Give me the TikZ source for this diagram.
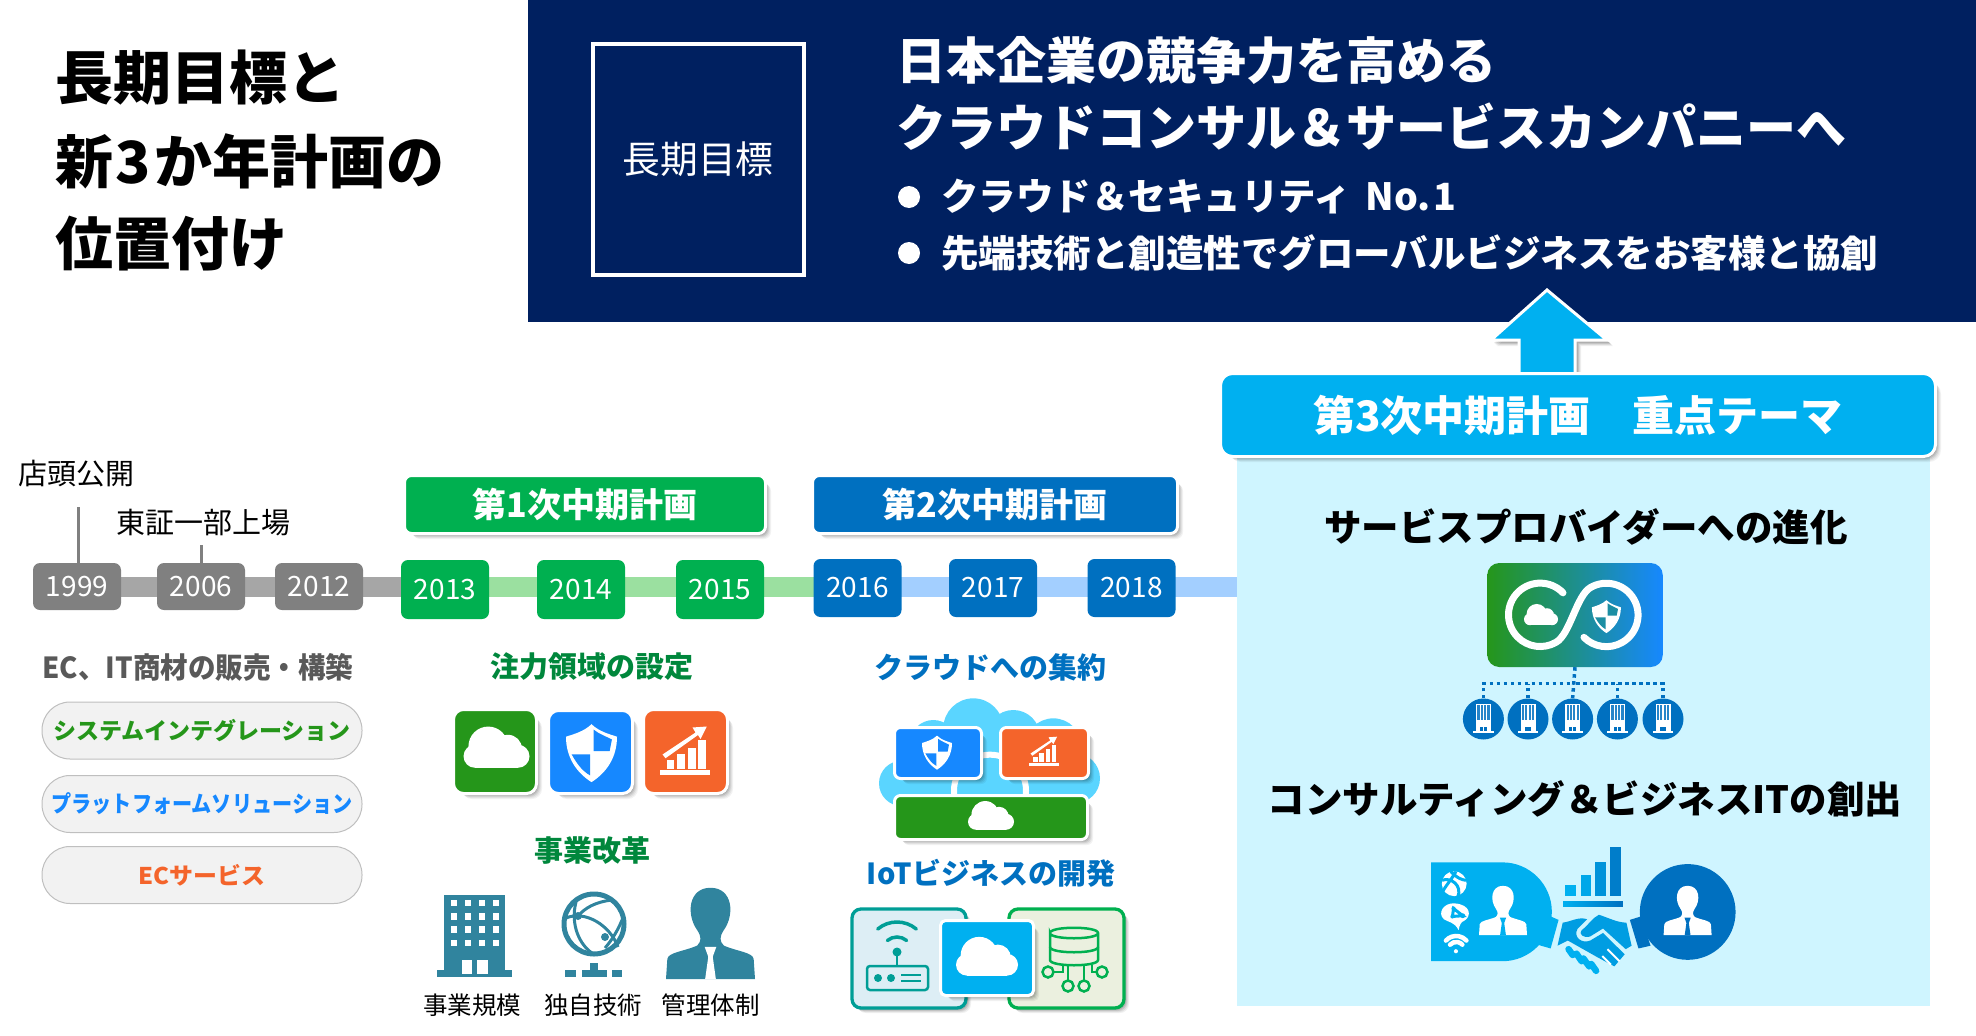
\documentclass[tikz,border=0pt]{standalone}
\usepackage{fontspec}
\setmainfont{Noto Sans CJK JP}
\usetikzlibrary{calc}
\definecolor{navy}{HTML}{002060}
\definecolor{sky}{HTML}{00B0F0}
\definecolor{deep}{HTML}{0070C0}
\definecolor{paneblue}{HTML}{CFF5FF}
\definecolor{green1}{HTML}{00B050}
\definecolor{greentx}{HTML}{00873C}
\definecolor{leaf}{HTML}{25961A}
\definecolor{azure}{HTML}{1688FF}
\definecolor{flame}{HTML}{F4642B}
\definecolor{teal1}{HTML}{30849E}
\definecolor{cloudblue}{HTML}{5AD5FF}
\definecolor{bargrey}{HTML}{A6A6A6}
\definecolor{bargreen}{HTML}{9BE0A0}
\definecolor{barblue}{HTML}{A3CFFF}
\definecolor{boxgrey}{HTML}{808080}
\definecolor{pillfill}{HTML}{F2F2F2}
\definecolor{pillline}{HTML}{BFBFBF}
\definecolor{darkgrey}{HTML}{595959}
\definecolor{tealline}{HTML}{009E96}
\definecolor{tealbg}{HTML}{DDEEF5}
\definecolor{olivebg}{HTML}{EBF0DF}
\newcommand\fs[1]{\fontsize{#1}{#1}\selectfont}
\pgfdeclarelayer{bg}
\pgfsetlayers{bg,main}
\tikzset{
  panelnode/.style={draw=white,line width=3pt,inner sep=0pt,text=white},
  yearbox/.style={rounded corners=7pt,inner sep=0pt,text=white,font=\fs{28},minimum width=88pt},
  yeargrey/.style={yearbox,fill=boxgrey,minimum height=47pt},
  yeargreen/.style={yearbox,fill=green1,minimum height=59pt},
  yearblue/.style={yearbox,fill=deep,minimum height=58pt},
  barline/.style={line width=20pt},
  pillnode/.style={draw=pillline,line width=1pt,fill=pillfill,rounded corners=28pt,minimum width=320pt,minimum height=57pt,inner sep=0pt,font=\bfseries\fs{23}},
  heading/.style={inner sep=0pt,font=\bfseries\fs{29}},
  bigheading/.style={inner sep=0pt,font=\bfseries\fs{37.5}},
  plainlabel/.style={inner sep=0pt,font=\fs{29}},
  smalllabel/.style={inner sep=0pt,font=\fs{24.5}},
  titleline/.style={inner sep=0pt,anchor=west,font=\bfseries\fs{58}},
  bannerline/.style={inner sep=0pt,anchor=west,text=white,font=\bfseries\fs{50}},
  bulletline/.style={inner sep=0pt,anchor=west,text=white,font=\bfseries\fs{37.5}},
  dotline/.style={draw=deep,line width=3.5pt,dash pattern=on 3.5pt off 3.5pt},
  companynode/.style={circle,fill=deep,minimum size=41pt,inner sep=0pt},
  flip/.style={yscale=-1,scale=#1},
  pics/cloudico/.style={code={
    \fill[white] (-.25,-.05) circle[radius=.6] (.35,.02) circle[radius=.42]
      (-.65,.25) circle[radius=.35] (.65,.25) circle[radius=.35];
    \fill[white] (-.65,.1) rectangle (.65,.6);}},
  pics/shieldico/.style={code={
    \fill[white] (0,-1.09) .. controls (.3,-.8) and (.7,-.7) .. (1,-.6)
      .. controls (1,.2) and (.6,.8) .. (0,1.18)
      .. controls (-.6,.8) and (-1,.2) .. (-1,-.6)
      .. controls (-.7,-.7) and (-.3,-.8) .. cycle;
    \fill[#1] (.08,-.88) .. controls (.3,-.7) and (.6,-.6) .. (.8,-.49)
      -- (.71,-.03) -- (.08,-.03) -- cycle;
    \fill[#1] (-.78,.09) -- (-.05,.09) -- (-.05,.92) .. controls (-.35,.75) and (-.55,.5) .. cycle;}},
  pics/chartico/.style={code={
    \fill[white] (-1,.73) rectangle (1,.93);
    \fill[white] (-.73,.33) rectangle (-.43,.67);
    \fill[white] (-.33,.09) rectangle (0,.67);
    \fill[white] (.11,-.17) rectangle (.43,.67);
    \fill[white] (.53,-.49) rectangle (.83,.67);
    \fill[white] (-.9,.1) -- (.42,-.78) -- (.3,-.98) -- (.87,-1.02) -- (.62,-.52) -- (.52,-.68) -- (-.78,.25) -- cycle;}},
  pics/personico/.style n args={2}{code={
    \fill[#1] (-1,0) -- (-.97,-.45) .. controls (-.95,-.6) and (-.6,-.62) .. (-.3,-.75)
      .. controls (-.2,-.85) and (-.2,-.95) .. (-.3,-1.1)
      .. controls (-.55,-1.45) and (-.5,-2.05) .. (0,-2.05)
      .. controls (.5,-2.05) and (.55,-1.45) .. (.3,-1.1)
      .. controls (.2,-.95) and (.2,-.85) .. (.3,-.75)
      .. controls (.6,-.62) and (.95,-.6) .. (.97,-.45) -- (1,0) -- cycle;
    \fill[#2] (-.13,-.72) -- (.13,-.72) -- (.05,-.5) -- (.12,-.0) -- (-.12,-.0) -- (-.05,-.5) -- cycle;}},
  pics/officeico/.style={code={
    \fill[white] (-7.5,-15) rectangle (7.5,13);
    \fill[white] (-10.3,12) rectangle (10.3,14);
    \foreach \cx in {-5,-1.7,1.7,5}{\foreach \cy in {-12.5,-9.5,-6.5,-3.5,-.5}{
      \fill[deep!85] (\cx-1.1,\cy-1.1) rectangle (\cx+1.1,\cy+1.1);}}
    \fill[deep] (-3.4,8) rectangle (-.4,12);
    \fill[deep] (.4,8) rectangle (3.4,12);}}
}
\newcommand\panelbox[8]{%
  \foreach \d/\o in {7/.05,6/.06,5/.08,4/.1,3/.12}{%
    \fill[black,opacity=\o,rounded corners=#7pt] ({#2+\d},{#3+\d}) rectangle ({#4+\d},{#5+\d});}%
  \node[panelnode,fill=#6,rounded corners=#7pt,minimum width={#4-#2+3},minimum height={#5-#3+3}] (#1) at ({(#2+#4)/2},{(#3+#5)/2}) {#8};}
\begin{document}
\begin{tikzpicture}[x=1pt,y=1pt,yscale=-1]
\useasboundingbox (0,0) rectangle (1976,1036);
% title
\node[titleline] (t1) at (55,78) {長期目標と};
\node[titleline] (t2) at (55,161) {新\kern2pt 3\kern4pt か年計画の};
\node[titleline] (t3) at (55,244) {位置付け};
% banner
\fill[navy] (528,0) rectangle (1976,322);
\node[draw=white,line width=4pt,minimum width=211pt,minimum height=231pt,inner sep=0pt,text=white,font=\fs{37.8}] (goal) at (698,159.5) {\raisebox{3pt}{長期目標}};
\node[bannerline] (b1) at (896,60.5) {日本企業の競争力を高める};
\node[bannerline] (b2) at (896,126.5) {クラウドコンサル＆サービスカンパニーへ};
\fill[white] (909,197) circle[radius=11];
\fill[white] (909,253) circle[radius=11];
\node[bulletline] (b3) at (941,197) {クラウド＆セキュリティ\kern14pt No.\kern3pt 1};
\node[bulletline] (b4) at (941,253) {先端技術と創造性でグローバルビジネスをお客様と協創};
% right panel
\fill[paneblue] (1237,455) rectangle (1930,1006);
% arrow
\foreach \d/\o in {6/.06,5/.08,4/.1,3/.12}{
  \fill[black,opacity=\o] (1547+\d,290+\d) -- (1607+\d,340+\d) -- (1575+\d,340+\d) -- (1575+\d,378+\d) -- (1519+\d,378+\d) -- (1519+\d,340+\d) -- (1491+\d,340+\d) -- cycle;}
\draw[white,line width=3pt,fill=sky] (1547,290) -- (1607,340) -- (1575,340) -- (1575,378) -- (1519,378) -- (1519,340) -- (1491,340) -- cycle;
\panelbox{head3}{1222}{375}{1934}{455}{sky}{12}{\bfseries\fs{42}第3次中期計画　重点テーマ}
% timeline
\node[yeargrey] (y1999) at (77,586.5) {\raisebox{-1pt}{1999}};
\node[yeargrey] (y2006) at (201,586.5) {\raisebox{-1pt}{2006}};
\node[yeargrey] (y2012) at (319,586.5) {\raisebox{-1pt}{2012}};
\node[yeargreen] (y2013) at (445,589.5) {\raisebox{-2.5pt}{2013}};
\node[yeargreen] (y2014) at (581,589.5) {\raisebox{-2.5pt}{2014}};
\node[yeargreen] (y2015) at (720,589.5) {\raisebox{-2.5pt}{2015}};
\node[yearblue] (y2016) at (857.5,588) {\raisebox{-1.5pt}{2016}};
\node[yearblue] (y2017) at (993,588) {\raisebox{-1.5pt}{2017}};
\node[yearblue] (y2018) at (1131.5,588) {\raisebox{-1.5pt}{2018}};
\coordinate (barend) at (1237,587);
\begin{pgfonlayer}{bg}
  \draw[barline,bargrey] (y1999) -- (y1999 -| y2013);
  \draw[barline,bargreen] (y2013 |- barend) -- (y2016 |- barend);
  \draw[barline,barblue] (y2016 |- barend) -- (barend);
\end{pgfonlayer}
\coordinate (m1999) at (78,506.5);
\coordinate (m2006) at (201,545);
\draw[boxgrey,line width=3pt] (y1999.north -| m1999) -- (m1999);
\draw[boxgrey,line width=3pt] (y2006.north) -- (m2006);
\node[plainlabel] (l1999) at (76,474) {店頭公開};
\node[plainlabel] (l2006) at (203,523) {東証一部上場};
\panelbox{plan1}{406}{477}{764}{532}{green1}{7}{\bfseries\fs{34}第1次中期計画}
\panelbox{plan2}{814}{477}{1176}{532}{deep}{7}{\bfseries\fs{34}第2次中期計画}
% left column
\node[heading,text=darkgrey] (ec) at (198,667) {\scalebox{0.95}[1]{EC、IT商材の販売・構築}};
\node[pillnode,text=leaf] (p1) at (202,730.5) {システムインテグレーション};
\node[pillnode,text=azure] (p2) at (202,804) {\scalebox{0.875}[1]{プラットフォームソリューション}};
\node[pillnode,text=flame] (p3) at (202,875) {\scalebox{1.04}[1]{ECサービス}};
% column 2
\node[heading,text=greentx] (foc) at (592,667) {注力領域の設定};
\panelbox{ic1}{455}{711}{535}{792}{leaf}{10}{}
\panelbox{ic2}{550}{712}{631}{792}{azure}{10}{}
\panelbox{ic3}{645}{711}{726}{792}{flame}{10}{}
\pic[flip=33] at (496.5,748) {cloudico};
\pic[flip=25.5] at (591.5,752) {shieldico=azure};
\pic[flip=25] at (685,752) {chartico};
\node[heading,text=greentx] (ref) at (592,851) {事業改革};
% teal building
\fill[teal1] (444,895) rectangle (505,972);
\fill[teal1] (437,970) rectangle (512,977);
\foreach \wy in {903,916.5,929.5,943}{\foreach \wx in {454,468,482,495.5}{
  \fill[white] (\wx-3,\wy-3.2) rectangle (\wx+3,\wy+3.2);}}
\fill[white] (461.5,960) rectangle (472,974);
\fill[white] (477,960) rectangle (488,974);
% globe
\draw[teal1,line width=5pt] (594,924) circle[radius=30];
\draw[teal1,line width=3pt] (566,918) .. controls (585,910) and (610,925) .. (618,947);
\draw[teal1,line width=3pt] (576,902) .. controls (570,925) and (580,945) .. (592,953);
\draw[teal1,line width=3pt] (612,900) .. controls (595,902) and (585,908) .. (578,916);
\draw[teal1,line width=3pt] (622,920) .. controls (618,930) and (612,940) .. (605,948);
\fill[teal1] (578,916) circle[radius=4] (605,937) circle[radius=4];
\fill[teal1] (565,970) rectangle (576,977);
\fill[teal1] (582,970) rectangle (607,977);
\fill[teal1] (612,970) rectangle (622,977);
\fill[teal1] (590,963) rectangle (598,971);
\pic[flip=44.5] at (710.5,979) {personico={teal1}{white}};
\node[smalllabel] (s1) at (472,1005) {事業規模};
\node[smalllabel] (s2) at (593,1005) {独自技術};
\node[smalllabel] (s3) at (710.5,1005) {管理体制};
% column 3
\node[heading,text=deep] (cl) at (990,667) {クラウドへの集約};
\begin{scope}[shift={(800,640)},scale=1/3]
  \fill[cloudblue] (305,430) circle[radius=68] (400,310) circle[radius=70] (520,265) circle[radius=90]
    (640,290) circle[radius=80] (760,320) circle[radius=85] (825,415) circle[radius=75];
  \fill[cloudblue] (305,300) rectangle (830,510);
  \draw[white,line width=6pt] (570,452) circle[radius=108];
\end{scope}
\panelbox{cb1}{896}{729}{980}{777}{azure}{6}{}
\panelbox{cb2}{1002}{729}{1087}{777}{flame}{6}{}
\panelbox{cb3}{896}{797}{1086}{838}{leaf}{6}{}
\pic[flip=15] at (937,752) {shieldico=azure};
\pic[flip=15] at (1044,752) {chartico};
\pic[flip=23] at (991,816) {cloudico};
\node[heading,text=deep] (iot) at (991,873) {IoTビジネスの開発};
% IoT boxes
\foreach \d/\o in {5/.06,4/.08,3/.1,2/.12}{
  \fill[black,opacity=\o,rounded corners=9pt] (852+\d,909+\d) rectangle (966+\d,1008+\d);
  \fill[black,opacity=\o,rounded corners=9pt] (1009+\d,909+\d) rectangle (1124+\d,1008+\d);}
\node[draw=tealline,fill=tealbg,line width=3.3pt,rounded corners=9pt,minimum width=114pt,minimum height=99pt,inner sep=0pt] (iotl) at (909,958.5) {};
\node[draw=green1,fill=olivebg,line width=3.3pt,rounded corners=9pt,minimum width=115pt,minimum height=99pt,inner sep=0pt] (iotr) at (1066.5,958.5) {};
% router
\draw[tealline,line width=3.5pt,line cap=round] ({897+30*cos(230)},{952+30*sin(230)}) arc[start angle=230,end angle=310,radius=30];
\draw[tealline,line width=3.5pt,line cap=round] ({897+15*cos(230)},{952+15*sin(230)}) arc[start angle=230,end angle=310,radius=15];
\fill[tealline] (897,952) circle[radius=4.5];
\draw[tealline,line width=2.5pt] (897,952) -- (897,966);
\draw[tealline,line width=2.5pt,rounded corners=3pt] (867,966) rectangle (928,990);
\fill[tealline] (878,978) circle[radius=4] (891,978) circle[radius=4];
\draw[tealline,line width=2.5pt] (901,975) -- (921,975) (901,981) -- (921,981);
% database
\draw[green1,line width=2.5pt] (1050,933) .. controls (1050,926) and (1098,926) .. (1098,933)
  .. controls (1098,940) and (1050,940) .. (1050,933) -- (1050,960)
  .. controls (1050,967) and (1098,967) .. (1098,960) -- (1098,933);
\draw[green1,line width=2.5pt] (1050,947) .. controls (1050,954) and (1098,954) .. (1098,947);
\draw[green1,line width=2.5pt] (1063,965) |- (1054,972) (1068,966) -- (1068,980) (1084,966) -- (1084,980) (1092,965) |- (1096,972);
\draw[green1,line width=2.5pt] (1048,972) circle[radius=5.5] (1102,972) circle[radius=5.5] (1068,986) circle[radius=5.5] (1084,986) circle[radius=5.5];
\panelbox{iotc}{942}{922}{1032}{994}{sky}{5}{}
\pic[flip=31] at (987,957) {cloudico};
% service provider
\node[bigheading] (sv) at (1586,527) {サービスプロバイダーへの進化};
\node[left color=leaf,right color=azure,rounded corners=12pt,minimum width=175.5pt,minimum height=104pt,inner sep=0pt] (grad) at (1575,615) {};
\draw[white,line width=7pt,line cap=round] (1563,592.8) arc[start angle=-44,end angle=-300,radius=31.7]
  .. controls (1570,634.5) and (1576.5,595.5) .. (1590.5,587.5)
  arc[start angle=240,end angle=495,radius=31.7];
\pic[flip=17] at (1541,615) {cloudico};
\pic[flip=14.5] at (1606.4,616) {shieldico=azure!60!leaf};
\coordinate (hub) at (1572.6,683.6);
\foreach \i/\x in {1/1483.4,2/1528,3/1572.6,4/1617.4,5/1663}{
  \node[companynode] (co\i) at (\x,719) {};
  \pic[flip=1] at (co\i) {officeico};}
\draw[dotline] (grad.south) -- (co3.north);
\draw[dotline] (co1.north) |- (hub);
\draw[dotline] (co2.north) -- (co2.north |- hub);
\draw[dotline] (co4.north) -- (co4.north |- hub);
\draw[dotline] (co5.north) |- (hub);
% consulting
\node[bigheading] (cs) at (1585,799) {コンサルティング＆ビジネスITの創出};
\begin{scope}[shift={(1220,820)},scale=0.3444]
  \fill[sky] (613,123) -- (820,123) arc[start angle=-90,end angle=90,radius=143.5] -- (613,410) -- cycle;
  \fill[sky] (960,280) -- (983,290) -- (960,373) -- (922,362) -- cycle;
  \fill[deep] (1358,267) circle[radius=139];
  \fill[deep] (1190,290) -- (1222,280) -- (1250,365) -- (1215,373) -- cycle;
  % bars
  \fill[sky] (1003,190) rectangle (1033,222);
  \fill[sky!85!deep] (1047,160) rectangle (1077,222);
  \fill[sky!55!deep] (1090,122) rectangle (1120,222);
  \fill[sky!20!deep] (1133,77) rectangle (1163,222);
  \shade[left color=sky,right color=deep] (996,237) rectangle (1170,252);
  % handshake
  \fill[sky!70!deep] (995,298) .. controls (1020,295) and (1040,280) .. (1066,288) -- (1038,316)
    .. controls (1025,340) and (1050,360) .. (1075,350) -- (1112,328) -- (1175,390)
    -- (1145,425) -- (1095,398) -- (1010,350) -- (980,365) -- cycle;
  \fill[sky!70!deep] (1100,275) .. controls (1130,285) and (1155,298) .. (1180,298) -- (1195,365) -- (1178,375)
    -- (1112,315) -- (1075,338) .. controls (1055,345) and (1040,330) .. (1050,320) .. controls (1070,305) and (1080,285) .. cycle;
  \draw[sky,line width=6.5pt,line cap=round] (1012,375) -- (1024,392) (1035,388) -- (1050,410) (1055,402) -- (1072,425) (1078,418) -- (1092,438);
  \draw[white,line width=2pt] (1125,375) -- (1160,410) (1110,395) -- (1135,420);
  % mini icons
  \fill[white] (680,185) circle[radius=36];
  \draw[sky,line width=3pt] (645,175) .. controls (670,165) and (705,190) .. (690,225)
    (670,150) .. controls (690,170) and (705,175) .. (716,175) (648,205) .. controls (660,185) and (670,175) .. (685,150);
  \fill[white] (680,242) .. controls (650,240) and (630,270) .. (650,288) .. controls (665,298) and (680,295) .. (693,320)
    .. controls (695,305) and (700,295) .. (710,292) .. controls (730,280) and (730,245) .. (680,242) -- cycle;
  \draw[sky,line width=3pt] (678,257) -- (675,280) -- (705,278) -- cycle;
  \fill[sky] (678,257) circle[radius=6] (675,280) circle[radius=6] (705,278) circle[radius=7];
  \draw[white,line width=4.5pt,line cap=round] (656,350) arc[start angle=222,end angle=318,radius=40];
  \draw[white,line width=4.5pt,line cap=round] (668,362) arc[start angle=222,end angle=318,radius=24];
  \fill[white] (685,381) circle[radius=6];
\end{scope}
\pic[flip=24] at (1503,935) {personico={white}{sky}};
\pic[flip=24] at (1687.6,935) {personico={white}{deep}};
\end{tikzpicture}
\end{document}
